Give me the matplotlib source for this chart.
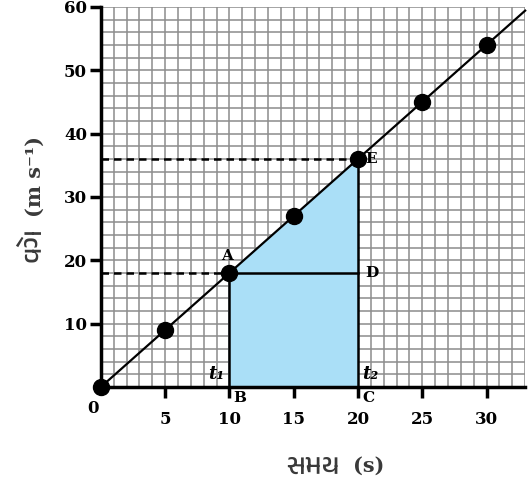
import matplotlib
matplotlib.use("Agg")
import matplotlib.pyplot as plt
from matplotlib import font_manager as fm
import numpy as np

# data
time_s = [0, 5, 10, 15, 20, 25, 30]
velocity = [0, 9, 18, 27, 36, 45, 54]
line_x = [0, 33]
line_y = [0, 59.4]
t1, t2 = 10, 20
vA, vE = 18, 36
xticks = [5, 10, 15, 20, 25, 30]
yticks = [10, 20, 30, 40, 50, 60]

# find a Gujarati-capable font if any
guj = None
for f in fm.fontManager.ttflist:
    if 'Gujarati' in f.name:
        guj = f.name
        break
guj_family = [guj, 'DejaVu Serif'] if guj else ['DejaVu Serif']

fig = plt.figure(figsize=(5.31, 4.88), dpi=100)
ax = fig.add_axes([0.190, 0.207, 0.799, 0.779])
ax.set_xlim(0, 33)
ax.set_ylim(0, 60)

# grid paper
for gx in np.arange(1, 34, 1):
    ax.axvline(gx, color='#8c8c8c', lw=1.1, zorder=1)
for gy in np.arange(2, 61, 2):
    ax.axhline(gy, color='#8c8c8c', lw=1.1, zorder=1)

# shaded area
ax.fill([t1, t1, t2, t2], [0, vA, vE, 0], color='#aadff7', zorder=2)
ax.plot([t1, t1], [0, vA], color='black', lw=1.8, zorder=3)
ax.plot([t2, t2], [0, vE], color='black', lw=1.8, zorder=3)
ax.plot([t1, t2], [vA, vA], color='black', lw=1.8, zorder=3)
ax.plot([0, t1], [vA, vA], color='black', lw=1.8, ls=(0, (3, 2)), zorder=3)
ax.plot([0, t2], [vE, vE], color='black', lw=1.8, ls=(0, (3, 2)), zorder=3)

ax.plot(line_x, line_y, color='black', lw=1.6, zorder=4, clip_on=False)
ax.plot(time_s, velocity, 'o', color='black', ms=11.5, zorder=5, clip_on=False)

for s in ['top', 'right']:
    ax.spines[s].set_visible(False)
for s in ['left', 'bottom']:
    ax.spines[s].set_linewidth(2.5)
    ax.spines[s].set_zorder(6)

ax.set_xticks(xticks)
ax.set_yticks(yticks)
ax.tick_params(which='major', length=8, width=2.5, labelsize=12)
ax.tick_params(axis='x', pad=9)
ax.tick_params(axis='y', pad=2)
for lab in ax.get_xticklabels() + ax.get_yticklabels():
    lab.set_fontfamily('DejaVu Serif')
    lab.set_fontweight('bold')

tkw = dict(fontfamily='DejaVu Serif', fontweight='bold', fontsize=11)
ax.text(-0.2, -2.0, '0', ha='right', va='top', fontfamily='DejaVu Serif', fontweight='bold', fontsize=12)
ax.text(9.8, 19.5, 'A', ha='center', va='bottom', **tkw)
ax.text(20.6, 18, 'D', ha='left', va='center', **tkw)
ax.text(20.6, 36, 'E', ha='left', va='center', **tkw)
ax.text(10.3, -0.7, 'B', ha='left', va='top', **tkw)
ax.text(20.3, -0.7, 'C', ha='left', va='top', **tkw)
tt = dict(fontfamily='DejaVu Serif', fontweight='bold', fontstyle='italic', fontsize=13)
ax.text(9.6, 0.6, 't\u2081', ha='right', va='bottom', **tt)
ax.text(20.3, 0.6, 't\u2082', ha='left', va='bottom', **tt)

lab_col = '#3a3a3a'
# y label: Gujarati word + unit
fig.text(0.062, 1 - 245 / 488, 'વેગ', rotation=90, ha='center', va='center',
         fontsize=20, fontweight='bold', family=guj_family, color=lab_col)
fig.text(0.066, 1 - 177 / 488, '(m s\u207b\u00b9)', rotation=90, ha='center', va='center',
         fontsize=15, fontweight='bold', family='DejaVu Serif', color=lab_col)
# x label
fig.text(313 / 531, 1 - 467 / 488, 'સમય', ha='center', va='center',
         fontsize=20, fontweight='bold', family=guj_family, color=lab_col)
fig.text(369 / 531, 1 - 466 / 488, '(s)', ha='center', va='center',
         fontsize=15, fontweight='bold', family='DejaVu Serif', color=lab_col)

fig.savefig('out.png', dpi=100)
